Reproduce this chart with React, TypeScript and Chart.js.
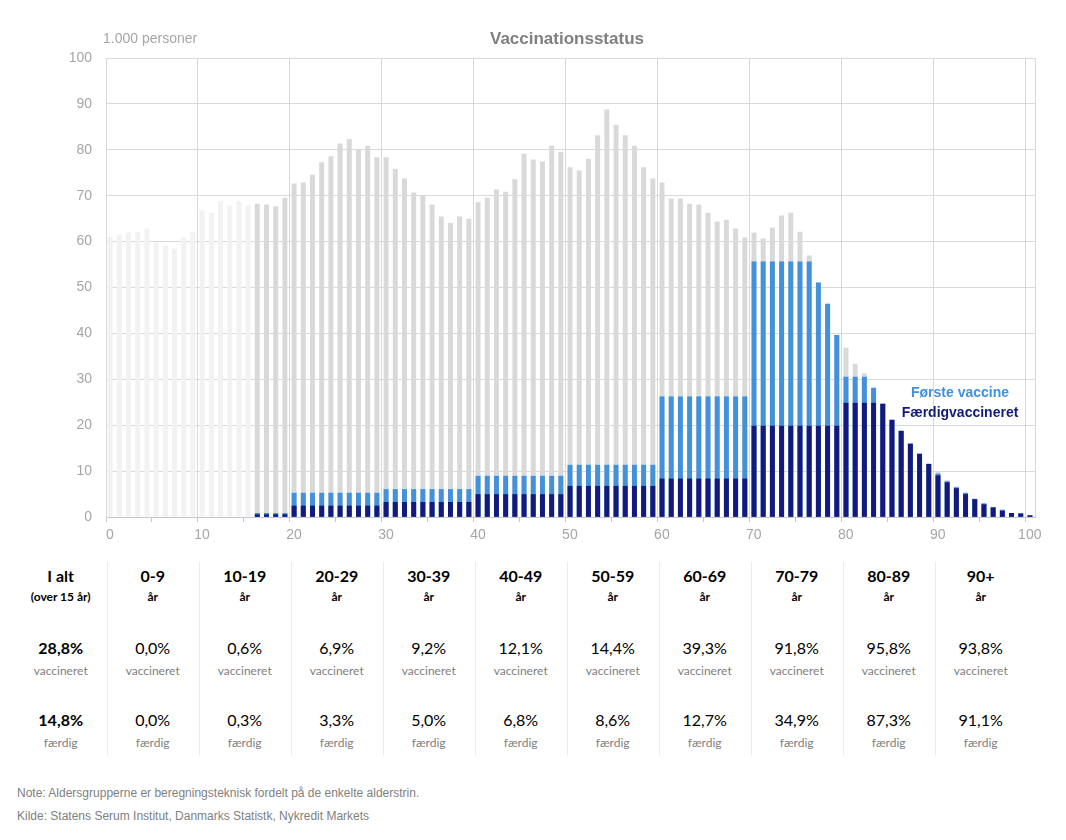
import { useEffect, useRef } from "react";
import Chart from "chart.js/auto";

// age 0..100, one bar per year
const ages: number[] = Array.from({ length: 101 }, (_, i) => i);

// befolkning, 1.000 personer
const population: number[] = [
  61.0, 61.5, 61.9, 62.1, 62.8, 59.8, 59.0, 58.4, 60.8, 62.1,
  66.7, 66.2, 68.7, 67.8, 68.7, 67.8, 68.2, 68.0, 67.6, 69.5,
  72.6, 72.8, 74.5, 77.2, 78.5, 81.3, 82.2, 80.0, 80.8, 78.3,
  78.3, 75.8, 73.7, 70.6, 69.9, 68.0, 65.4, 64.0, 65.4, 64.9,
  68.5, 69.5, 71.3, 70.8, 73.5, 79.1, 77.8, 77.4, 80.8, 79.5,
  76.1, 75.4, 78.0, 83.1, 88.7, 85.4, 83.1, 80.8, 76.1, 73.7,
  72.8, 69.3, 69.3, 68.2, 68.0, 66.2, 64.3, 64.7, 62.8, 60.8,
  61.9, 60.6, 63.0, 65.6, 66.2, 62.1, 56.9, 51.0, 46.4, 39.6,
  36.8, 33.3, 31.2, 28.1, 24.6, 21.1, 18.7, 15.9, 13.7, 11.5,
  9.9, 8.0, 6.6, 5.2, 3.9, 2.9, 2.1, 1.5, 0.8, 0.7, 0.3,
];

// første vaccine
const firstDose: number[] = [
  0, 0, 0, 0, 0, 0, 0, 0, 0, 0,
  0, 0, 0, 0, 0, 0, 0.8, 0.8, 0.8, 0.8,
  5.2, 5.2, 5.2, 5.2, 5.2, 5.2, 5.2, 5.2, 5.2, 5.2,
  6.0, 6.0, 6.0, 6.0, 6.0, 6.0, 6.0, 6.0, 6.0, 6.0,
  8.9, 8.9, 8.9, 8.9, 8.9, 8.9, 8.9, 8.9, 8.9, 8.9,
  11.3, 11.3, 11.3, 11.3, 11.3, 11.3, 11.3, 11.3, 11.3, 11.3,
  26.2, 26.2, 26.2, 26.2, 26.2, 26.2, 26.2, 26.2, 26.2, 26.2,
  55.6, 55.6, 55.6, 55.6, 55.6, 55.6, 55.6, 51.0, 46.4, 39.6,
  30.5, 30.5, 30.5, 28.1, 24.6, 21.1, 18.7, 15.9, 13.7, 11.5,
  9.4, 7.7, 6.4, 5.2, 3.9, 2.9, 2.1, 1.5, 0.8, 0.7, 0.3,
];

// færdigvaccineret
const completed: number[] = [
  0, 0, 0, 0, 0, 0, 0, 0, 0, 0,
  0, 0, 0, 0, 0, 0, 0.5, 0.5, 0.5, 0.5,
  2.4, 2.4, 2.4, 2.4, 2.4, 2.4, 2.4, 2.4, 2.4, 2.4,
  3.2, 3.2, 3.2, 3.2, 3.2, 3.2, 3.2, 3.2, 3.2, 3.2,
  4.9, 4.9, 4.9, 4.9, 4.9, 4.9, 4.9, 4.9, 4.9, 4.9,
  6.7, 6.7, 6.7, 6.7, 6.7, 6.7, 6.7, 6.7, 6.7, 6.7,
  8.3, 8.3, 8.3, 8.3, 8.3, 8.3, 8.3, 8.3, 8.3, 8.3,
  19.8, 19.8, 19.8, 19.8, 19.8, 19.8, 19.8, 19.8, 19.8, 19.8,
  24.8, 24.8, 24.8, 24.8, 24.6, 21.1, 18.7, 15.9, 13.7, 11.5,
  9.0, 7.5, 6.2, 4.9, 3.8, 2.7, 2.0, 1.3, 0.8, 0.7, 0.3,
];

const xTicks: number[] = [0, 5, 10, 15, 20, 25, 30, 35, 40, 45, 50, 55, 60, 65, 70, 75, 80, 85, 90, 95, 100, 101];

// tabel under grafen
const groupNames: string[] = ["I alt", "0-9", "10-19", "20-29", "30-39", "40-49", "50-59", "60-69", "70-79", "80-89", "90+"];
const groupSub: string[] = ["(over 15 år)", "år", "år", "år", "år", "år", "år", "år", "år", "år", "år"];
const pctVaccinated: string[] = ["28,8%", "0,0%", "0,6%", "6,9%", "9,2%", "12,1%", "14,4%", "39,3%", "91,8%", "95,8%", "93,8%"];
const pctCompleted: string[] = ["14,8%", "0,0%", "0,3%", "3,3%", "5,0%", "6,8%", "8,6%", "12,7%", "34,9%", "87,3%", "91,1%"];

const GREY_TEXT = "#a6a6a6";
const BLUE = "#4390db";
const NAVY = "#121b7d";
const ARIAL = "'Liberation Sans', Arial, sans-serif";
const TABLE_FONT = "Lato, 'Noto Sans', sans-serif";

const VaccineChart = () => {
  const canvasRef = useRef<HTMLCanvasElement | null>(null);
  const chartRef = useRef<Chart | null>(null);

  useEffect(() => {
    if (!canvasRef.current) return;
    if (chartRef.current) chartRef.current.destroy();

    // bar centred in its one-year slot; empty values are skipped
    const toPoints = (vals: number[]) =>
      ages.map((a, i) => ({ x: a + 0.45, y: vals[i] > 0 ? vals[i] : null }));

    chartRef.current = new Chart(canvasRef.current, {
      type: "bar",
      data: {
        datasets: [
          {
            label: "Færdigvaccineret",
            data: toPoints(completed),
            backgroundColor: NAVY,
            order: 1,
          },
          {
            label: "Første vaccine",
            data: toPoints(firstDose),
            backgroundColor: BLUE,
            order: 2,
          },
          {
            label: "Befolkning",
            data: toPoints(population),
            backgroundColor: (ctx: any) => (ctx.dataIndex < 16 ? "#f2f2f2" : "#d9d9d9"),
            order: 3,
          },
        ],
      },
      options: {
        animation: false,
        responsive: true,
        maintainAspectRatio: false,
        layout: { padding: { left: 0, top: 58, right: 31, bottom: 0 } },
        datasets: {
          bar: { grouped: false, barThickness: 4.3, borderWidth: 0 },
        },
        plugins: {
          legend: { display: false },
          tooltip: { enabled: false },
          title: { display: false },
        },
        scales: {
          x: {
            type: "linear",
            min: 0,
            max: 101,
            offset: false,
            afterBuildTicks: (scale: any) => {
              scale.ticks = xTicks.map((v) => ({ value: v }));
            },
            afterFit: (scale: any) => {
              scale.height = 43;
            },
            grid: {
              offset: false,
              color: (ctx: any) => (ctx.tick && (ctx.tick.value % 10 === 0 || ctx.tick.value === 101) ? "#d9d9d9" : "rgba(0,0,0,0)"),
              tickColor: (ctx: any) => (ctx.tick && ctx.tick.value === 101 ? "rgba(0,0,0,0)" : "#c8c8c8"),
              tickLength: 5,
            },
            border: { color: "#c8c8c8" },
            ticks: {
              autoSkip: false,
              maxRotation: 0,
              padding: 5,
              labelOffset: 4,
              color: GREY_TEXT,
              font: { family: ARIAL, size: 14 },
              callback: (v: any) => (v % 10 === 0 && v <= 100 ? String(v) : ""),
            },
          },
          y: {
            min: 0,
            max: 100,
            afterFit: (scale: any) => {
              scale.width = 106;
            },
            grid: { color: "#d9d9d9", drawTicks: false },
            border: { color: "#d9d9d9" },
            ticks: {
              stepSize: 10,
              padding: 14,
              color: GREY_TEXT,
              font: { family: ARIAL, size: 14 },
            },
          },
        },
      },
    });

    return () => {
      if (chartRef.current) {
        chartRef.current.destroy();
        chartRef.current = null;
      }
    };
  }, []);

  return (
    <div style={{ position: "absolute", left: 0, top: 0, width: 1066, height: 560 }}>
      <canvas ref={canvasRef}></canvas>
    </div>
  );
};

const App = () => {
  useEffect(() => {
    document.body.style.margin = "0";
  }, []);

  const colLeft = (i: number) => 14.7 + 92 * i;

  return (
    <div style={{ position: "relative", width: 1066, height: 840, background: "#fff", overflow: "hidden" }}>
      <VaccineChart />

      {/* titel og enhed */}
      <div style={{ position: "absolute", left: 0, width: 1134, top: 28, textAlign: "center", font: `bold 17px ${ARIAL}`, color: "#7f7f7f", lineHeight: "22px" }}>
        Vaccinationsstatus
      </div>
      <div style={{ position: "absolute", left: 103, top: 29, font: `14px ${ARIAL}`, color: GREY_TEXT, lineHeight: "18px" }}>
        1.000 personer
      </div>

      {/* legend i plottet */}
      <div style={{ position: "absolute", left: 860, width: 200, top: 382, textAlign: "center", font: `bold 14px ${ARIAL}`, color: BLUE, lineHeight: "20px" }}>
        Første vaccine
      </div>
      <div style={{ position: "absolute", left: 860, width: 200, top: 402, textAlign: "center", font: `bold 14px ${ARIAL}`, color: NAVY, lineHeight: "20px" }}>
        Færdigvaccineret
      </div>

      {/* tabel */}
      {groupNames.map((name, i) => (
        <div key={name} style={{ position: "absolute", left: colLeft(i), top: 0, width: 92, fontFamily: TABLE_FONT, textAlign: "center" }}>
          {i > 0 && (
            <div style={{ position: "absolute", left: 0, top: 562, width: 1, height: 193, background: "#ebebeb" }} />
          )}
          <div style={{ position: "absolute", left: 0, width: 92, top: 566, fontSize: 16, fontWeight: 700, lineHeight: "20px", color: "#000" }}>{name}</div>
          <div style={{ position: "absolute", left: 0, width: 92, top: 589, fontSize: 12, fontWeight: 700, lineHeight: "16px", color: "#000" }}>{groupSub[i]}</div>
          <div style={{ position: "absolute", left: 0, width: 92, top: 638, fontSize: 16, fontWeight: i === 0 ? 700 : 400, lineHeight: "20px", color: "#000" }}>{pctVaccinated[i]}</div>
          <div style={{ position: "absolute", left: 0, width: 92, top: 663, fontSize: 12, lineHeight: "16px", color: "#808080" }}>vaccineret</div>
          <div style={{ position: "absolute", left: 0, width: 92, top: 710, fontSize: 16, fontWeight: i === 0 ? 700 : 400, lineHeight: "20px", color: "#000" }}>{pctCompleted[i]}</div>
          <div style={{ position: "absolute", left: 0, width: 92, top: 735, fontSize: 12, lineHeight: "16px", color: "#808080" }}>færdig</div>
        </div>
      ))}

      {/* noter */}
      <div style={{ position: "absolute", left: 17, top: 785, font: `12px ${ARIAL}`, color: "#808080", lineHeight: "16px" }}>
        Note: Aldersgrupperne er beregningsteknisk fordelt på de enkelte alderstrin.
      </div>
      <div style={{ position: "absolute", left: 17, top: 808, font: `12px ${ARIAL}`, color: "#808080", lineHeight: "16px" }}>
        Kilde: Statens Serum Institut, Danmarks Statistk, Nykredit Markets
      </div>
    </div>
  );
};

export default App;
